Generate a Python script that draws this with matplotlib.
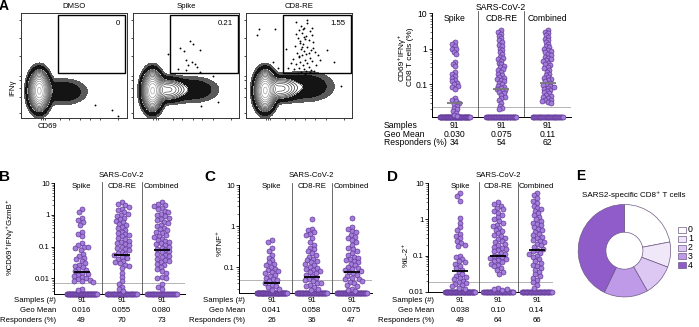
import numpy as np
import matplotlib
matplotlib.use('Agg')
import matplotlib.pyplot as plt
from matplotlib.patches import Rectangle
from matplotlib.ticker import LogLocator, NullFormatter, FuncFormatter

plt.rcParams['font.family'] = ['Liberation Sans', 'DejaVu Sans']
plt.rcParams['font.size'] = 5.5

W, H = 699, 327
fig = plt.figure(figsize=(6.99, 3.27), dpi=100)

# ---------------- data ----------------
groups = ["Spike", "CD8-RE", "Combined"]
n_samples = 91

# Panel A (CD69+IFNg+ % of CD8)
A_spike = [1.55, 1.35, 1.15, 1.0, 0.95, 0.82, 0.72, 0.43, 0.37, 0.33, 0.22, 0.2, 0.17, 0.15,
           0.13, 0.12, 0.11, 0.1, 0.09, 0.085, 0.072, 0.04, 0.036, 0.033, 0.03, 0.028, 0.025,
           0.022, 0.02, 0.018, 0.016, 0.014, 0.013]
A_cd8 = [3.3, 3.0, 2.6, 2.3, 2.0, 1.7, 1.5, 1.3, 1.15, 1.0, 0.9, 0.8, 0.7, 0.6, 0.55, 0.5, 0.45,
         0.4, 0.36, 0.33, 0.3, 0.27, 0.25, 0.22, 0.2, 0.18, 0.16, 0.15, 0.14, 0.13, 0.12, 0.11,
         0.1, 0.09, 0.085, 0.08, 0.075, 0.07, 0.065, 0.06, 0.055, 0.05, 0.045, 0.04, 0.035,
         0.03, 0.025, 0.022, 0.02]
A_comb = [3.3, 3.0, 2.7, 2.4, 2.1, 1.9, 1.7, 1.5, 1.35, 1.2, 1.1, 1.0, 0.9, 0.85, 0.8, 0.7, 0.65,
          0.6, 0.55, 0.5, 0.47, 0.44, 0.4, 0.37, 0.34, 0.3, 0.28, 0.25, 0.22, 0.2, 0.18, 0.16,
          0.15, 0.14, 0.13, 0.12, 0.11, 0.1, 0.095, 0.09, 0.085, 0.08, 0.075, 0.07, 0.065, 0.06,
          0.055, 0.05, 0.047, 0.044, 0.04, 0.037, 0.035, 0.033, 0.032, 0.03]
A_geo = [0.030, 0.075, 0.11]
A_resp = [34, 54, 62]
A_geo_txt = ["0.030", "0.075", "0.11"]
A_thresh = 0.023

# Panel B (%CD69+IFNg+GzmB+)
B_spike = [1.5, 1.2, 0.8, 0.7, 0.6, 0.5, 0.3, 0.26, 0.22, 0.13, 0.11, 0.1, 0.095, 0.09, 0.08,
           0.06, 0.05, 0.045, 0.04, 0.035, 0.03, 0.027, 0.025, 0.022, 0.02, 0.018, 0.017, 0.015,
           0.014, 0.013, 0.012, 0.011, 0.01, 0.0095, 0.009, 0.0085, 0.008, 0.0075, 0.0045, 0.0042]
B_cd8 = [2.5, 2.2, 2.0, 1.8, 1.6, 1.4, 1.25, 1.1, 1.0, 0.9, 0.8, 0.72, 0.65, 0.58, 0.52, 0.47,
         0.42, 0.38, 0.34, 0.3, 0.27, 0.25, 0.23, 0.21, 0.19, 0.17, 0.155, 0.14, 0.13, 0.12, 0.11,
         0.1, 0.092, 0.085, 0.078, 0.07, 0.064, 0.058, 0.053, 0.048, 0.044, 0.04, 0.036, 0.033,
         0.03, 0.027, 0.025, 0.021, 0.015, 0.011, 0.008, 0.0065, 0.0055, 0.0045, 0.004]
B_comb = [2.5, 2.3, 2.1, 1.9, 1.7, 1.5, 1.35, 1.2, 1.1, 1.0, 0.9, 0.82, 0.75, 0.68, 0.6, 0.55,
          0.5, 0.45, 0.4, 0.36, 0.33, 0.3, 0.27, 0.24, 0.22, 0.2, 0.18, 0.16, 0.15, 0.14, 0.13,
          0.12, 0.11, 0.1, 0.092, 0.085, 0.078, 0.072, 0.066, 0.06, 0.055, 0.05, 0.046, 0.042,
          0.038, 0.035, 0.032, 0.029, 0.026, 0.023, 0.02, 0.017, 0.015, 0.011, 0.0105, 0.01,
          0.0065, 0.0055, 0.0045]
B_geo = [0.016, 0.055, 0.080]
B_resp = [49, 70, 73]
B_geo_txt = ["0.016", "0.055", "0.080"]
B_thresh = 0.007

# Panel C (%TNF+)
C_spike = [0.46, 0.4, 0.3, 0.25, 0.2, 0.17, 0.15, 0.13, 0.12, 0.11, 0.1, 0.09, 0.085, 0.08,
           0.075, 0.07, 0.065, 0.06, 0.055, 0.05, 0.048, 0.045, 0.04, 0.037, 0.035, 0.032,
           0.03, 0.028]
C_cd8 = [1.5, 0.85, 0.8, 0.7, 0.65, 0.6, 0.5, 0.4, 0.35, 0.3, 0.27, 0.25, 0.22, 0.2, 0.18,
         0.16, 0.15, 0.14, 0.13, 0.12, 0.11, 0.1, 0.095, 0.09, 0.085, 0.08, 0.075, 0.07, 0.065,
         0.06, 0.055, 0.05, 0.048, 0.045, 0.042, 0.04, 0.037, 0.035, 0.033, 0.03, 0.028]
C_comb = [1.6, 0.95, 0.85, 0.75, 0.7, 0.6, 0.55, 0.5, 0.45, 0.4, 0.35, 0.3, 0.28, 0.25, 0.22,
          0.2, 0.18, 0.17, 0.16, 0.15, 0.14, 0.13, 0.12, 0.11, 0.1, 0.095, 0.09, 0.085, 0.08,
          0.075, 0.07, 0.065, 0.06, 0.055, 0.052, 0.05, 0.047, 0.044, 0.04, 0.037, 0.034, 0.03,
          0.028, 0.026]
C_geo = [0.041, 0.058, 0.075]
C_resp = [26, 36, 47]
C_geo_txt = ["0.041", "0.058", "0.075"]
C_thresh = 0.049

# Panel D (%IL-2+)
D_spike = [5.5, 4.5, 3.2, 1.1, 0.8, 0.6, 0.5, 0.4, 0.35, 0.3, 0.25, 0.22, 0.2, 0.18, 0.1, 0.09,
           0.08, 0.07, 0.065, 0.06, 0.05, 0.045, 0.04, 0.035, 0.03, 0.028, 0.026, 0.024, 0.022,
           0.02, 0.018, 0.017, 0.016, 0.015, 0.014, 0.013, 0.012]
D_cd8 = [3.0, 2.7, 2.4, 2.1, 1.9, 1.7, 1.5, 1.3, 1.15, 1.0, 0.9, 0.8, 0.72, 0.65, 0.58, 0.52,
         0.47, 0.42, 0.38, 0.34, 0.31, 0.28, 0.25, 0.23, 0.21, 0.19, 0.17, 0.16, 0.15, 0.14, 0.13,
         0.12, 0.11, 0.1, 0.095, 0.09, 0.085, 0.08, 0.075, 0.07, 0.065, 0.06, 0.055, 0.05, 0.045,
         0.04, 0.035, 0.031, 0.0125, 0.012, 0.0115, 0.012]
D_comb = [5.5, 4.6, 3.8, 3.2, 2.8, 2.4, 2.1, 1.9, 1.7, 1.5, 1.3, 1.15, 1.0, 0.9, 0.82, 0.75, 0.68,
          0.62, 0.56, 0.5, 0.45, 0.4, 0.36, 0.33, 0.3, 0.27, 0.25, 0.23, 0.21, 0.19, 0.17, 0.155,
          0.14, 0.13, 0.12, 0.11, 0.1, 0.09, 0.08, 0.07, 0.062, 0.055, 0.05, 0.045, 0.04, 0.035,
          0.03, 0.027, 0.024, 0.021, 0.018, 0.015, 0.0125]
D_geo = [0.038, 0.10, 0.14]
D_resp = [49, 64, 66]
D_geo_txt = ["0.038", "0.10", "0.14"]
D_thresh = 0.019

# Panel E: number of SARS2-specific CD8+ T cell responses per donor
E_labels = ["0", "1", "2", "3", "4"]
E_counts = [20, 8, 10, 14, 39]
E_colors = ["#ffffff", "#f0e7f8", "#dcc8f2", "#bf9ae8", "#8f5cc9"]

# Panel A flow plots: population density parameters (x, y, sx, sy, weight) in axis units
flow_titles = ["DMSO", "Spike", "CD8-RE"]
flow_freqs = ["0", "0.21", "1.55"]
flow_pops = [
    [(0.175, 0.26, 0.045, 0.085, 1.0), (0.40, 0.25, 0.12, 0.065, 0.05)],
    [(0.18, 0.26, 0.045, 0.085, 1.0), (0.33, 0.27, 0.08, 0.055, 0.22), (0.56, 0.27, 0.13, 0.065, 0.05)],
    [(0.18, 0.26, 0.045, 0.085, 1.0), (0.33, 0.28, 0.08, 0.055, 0.22), (0.56, 0.30, 0.14, 0.075, 0.055)],
]
dmso_events = [(0.92, 0.02), (0.86, 0.08), (0.70, 0.12)]
spike_events = [(0.44, 0.67), (0.48, 0.64), (0.535, 0.735), (0.56, 0.70), (0.63, 0.647),
                (0.33, 0.61), (0.50, 0.55), (0.55, 0.53), (0.52, 0.50), (0.58, 0.515),
                (0.42, 0.47), (0.60, 0.485), (0.50, 0.453), (0.63, 0.44), (0.64, 0.11),
                (0.80, 0.15), (0.75, 0.40)]
cd8re_events = [(0.52, 0.88), (0.55, 0.86), (0.58, 0.90), (0.50, 0.84), (0.60, 0.83), (0.47, 0.80),
                (0.53, 0.81), (0.57, 0.78), (0.62, 0.79), (0.49, 0.76), (0.56, 0.75), (0.51, 0.73),
                (0.59, 0.74), (0.54, 0.70), (0.63, 0.72), (0.46, 0.69), (0.58, 0.68), (0.52, 0.66),
                (0.61, 0.65), (0.55, 0.64), (0.48, 0.62), (0.57, 0.61), (0.65, 0.63), (0.53, 0.60),
                (0.50, 0.58), (0.60, 0.57), (0.44, 0.56), (0.56, 0.55), (0.62, 0.54), (0.51, 0.53),
                (0.58, 0.52), (0.47, 0.51), (0.54, 0.50), (0.66, 0.50), (0.59, 0.49), (0.50, 0.48),
                (0.55, 0.47), (0.61, 0.46), (0.45, 0.47), (0.57, 0.45), (0.52, 0.44), (0.64, 0.45),
                (0.49, 0.43), (0.60, 0.44), (0.56, 0.42), (0.42, 0.52), (0.53, 0.68), (0.68, 0.60),
                (0.58, 0.93), (0.38, 0.66), (0.51, 0.71), (0.62, 0.86), (0.55, 0.77), (0.47, 0.91),
                (0.70, 0.55), (0.59, 0.62), (0.40, 0.48), (0.54, 0.85), (0.63, 0.67), (0.50, 0.59),
                (0.12, 0.85), (0.27, 0.85), (0.10, 0.79), (0.76, 0.65), (0.83, 0.53), (0.25, 0.53),
                (0.30, 0.48), (0.90, 0.30)]
flow_events = [dmso_events, spike_events, cd8re_events]

# ---------------- helpers ----------------
FACE = "#a27dd9"
EDGE = "#5c3193"
MS = 3.6  # marker size in points


def px_axes(l, t, r, b):
    return fig.add_axes([l / W, 1 - b / H, (r - l) / W, (b - t) / H])


def ftext(x, y, s, **kw):
    fig.text(x / W, 1 - y / H, s, **kw)


def swarm_offsets(ax, xc, vals, d):
    """beeswarm offsets in display pixels"""
    placed = []
    offs = []
    for v in vals:
        y = ax.transData.transform((xc, v))[1]
        cands = [0.0]
        near = [(px, py) for px, py in placed if abs(py - y) < d]
        for px, py in near:
            dx = np.sqrt(d * d - (py - y) ** 2)
            cands += [px + dx, px - dx]
        cands = sorted(cands, key=lambda c: (abs(c), c))
        for c in cands:
            if all((c - px) ** 2 + (y - py) ** 2 >= d * d - 1e-6 for px, py in near):
                break
        placed.append((c, y))
        offs.append(c)
    return offs


def dot_panel(box, xlim, ylim, series, geo, thresh, mean_color, geo_txt, resp,
              row_labels, row_x, row_ha, rows_y, sars_y, lab_y, yticks, ylabel, ylab_xy,
              fs, ylab_fs, packing):
    ax = px_axes(*box)
    ax.set_yscale('log')
    ax.set_xlim(*xlim)
    ax.set_ylim(*ylim)
    for s in ['top', 'right']:
        ax.spines[s].set_visible(False)
    ax.spines['left'].set_linewidth(0.7)
    ax.spines['bottom'].set_linewidth(0.7)
    ax.set_xticks([])
    ax.yaxis.set_minor_locator(LogLocator(base=10, subs=np.arange(2, 10), numticks=20))
    ax.yaxis.set_minor_formatter(NullFormatter())
    ax.set_yticks(yticks)
    ax.yaxis.set_major_formatter(FuncFormatter(lambda v, p: '%g' % v))
    ax.tick_params(axis='y', which='major', length=2.2, width=0.6, pad=1, labelsize=fs)
    ax.tick_params(axis='y', which='minor', length=1.1, width=0.4)

    p0 = ax.transData.transform((1, 1))[0]
    p1 = ax.transData.transform((2, 1))[0]
    unit = p1 - p0
    d = MS * fig.dpi / 72.0 * packing

    ax.axhline(thresh, color='#a8a8a8', lw=0.6, zorder=1)
    for sep in [1.5, 2.5]:
        ax.plot([sep, sep], [0, 1.015], transform=ax.get_xaxis_transform(),
                color='#505050', lw=0.6, clip_on=False, zorder=1)

    for i, vals in enumerate(series):
        xc = i + 1
        n_floor = n_samples - len(vals)
        fx = xc + np.linspace(-15, 15, n_floor) / unit
        ax.scatter(fx, [ylim[0]] * n_floor, s=MS ** 2, c=FACE, edgecolors=EDGE,
                   linewidths=0.45, clip_on=False, zorder=3)
        offs = swarm_offsets(ax, xc, vals, d)
        ax.scatter(xc + np.array(offs) / unit, vals, s=MS ** 2, c=FACE, edgecolors=EDGE,
                   linewidths=0.45, clip_on=False, zorder=3)
        hw = 8 / unit
        ax.plot([xc - hw, xc + hw], [geo[i], geo[i]], color=mean_color, lw=1.3,
                zorder=5, solid_capstyle='butt')
        xpx = ax.transData.transform((xc, 1))[0]
        ftext(xpx, lab_y, groups[i], ha='center', va='center', fontsize=fs)
        ftext(xpx, rows_y[0], str(n_samples), ha='center', va='center', fontsize=fs)
        ftext(xpx, rows_y[1], geo_txt[i], ha='center', va='center', fontsize=fs)
        ftext(xpx, rows_y[2], str(resp[i]), ha='center', va='center', fontsize=fs)
        if i == 1:
            ftext(xpx, sars_y, "SARS-CoV-2", ha='center', va='center', fontsize=fs)
    for j, lab in enumerate(row_labels):
        ftext(row_x, rows_y[j], lab, ha=row_ha, va='center', fontsize=fs)
    ftext(ylab_xy[0], ylab_xy[1], ylabel, ha='center', va='center', rotation=90,
          fontsize=ylab_fs, linespacing=1.15)
    return ax


def flow_panel(box, pops, events, title, freq, show_labels):
    ax = px_axes(*box)
    ax.set_xlim(0, 1)
    ax.set_ylim(0, 1)
    xs = np.linspace(0, 1, 300)
    X, Y = np.meshgrid(xs, xs)
    Z = np.zeros_like(X)
    for (mx, my, sx, sy, w) in pops:
        Z += w * np.exp(-((X - mx) ** 2 / (2 * sx ** 2) + (Y - my) ** 2 / (2 * sy ** 2)))
    zmax = Z.max()
    ax.contourf(X, Y, Z, levels=[0.008 * zmax, 0.02 * zmax], colors=['#5a5a5a'])
    ax.contourf(X, Y, Z, levels=[0.02 * zmax, 0.06 * zmax], colors=['#141414'])
    ax.contourf(X, Y, Z, levels=[0.06 * zmax, zmax * 1.01], colors=['white'])
    lev = np.geomspace(0.06, 0.93, 12) * zmax
    cols = [plt.cm.gray(v) for v in np.linspace(0.1, 0.65, len(lev))]
    ax.contour(X, Y, Z, levels=lev, colors=cols, linewidths=0.5)
    ex = [e[0] for e in events]
    ey = [e[1] for e in events]
    ax.scatter(ex, ey, s=1.8, c='black', linewidths=0, zorder=4)
    ax.add_patch(Rectangle((0.35, 0.43), 0.637, 0.555, fill=False, lw=1.0,
                           edgecolor='black', zorder=5))
    ax.text(0.94, 0.9, freq, ha='right', va='center', fontsize=5.6, transform=ax.transAxes)
    for s in ax.spines.values():
        s.set_linewidth(0.7)
        s.set_color('#333333')
    ax.set_xticks([0.19, 0.21, 0.23, 0.37, 0.46, 0.56, 0.65, 0.75, 0.92])
    ax.set_yticks([0.05, 0.2, 0.29, 0.36, 0.40, 0.59, 0.76, 0.93])
    ax.set_xticklabels([])
    ax.set_yticklabels([])
    ax.tick_params(length=1.5, width=0.5, direction='out')
    l, t, r, b = box
    ftext((l + r) / 2, t - 6, title, ha='center', va='center', fontsize=5.6)
    if show_labels:
        ftext(l - 8, 88, "IFNγ", ha='center', va='center', rotation=90, fontsize=5.6)
        ftext(48, b + 8, "CD69", ha='center', va='center', fontsize=5.6)
    return ax


# ---------------- Panel A flow plots ----------------
flow_boxes = [(20.7, 13, 126.7, 118), (133.3, 13, 239.3, 118), (246, 13, 352, 118)]
for k in range(3):
    flow_panel(flow_boxes[k], flow_pops[k], flow_events[k], flow_titles[k], flow_freqs[k], k == 0)

# ---------------- Panel A dot plot ----------------
dot_panel((431.7, 13, 570.7, 117.3), (0.5, 3.5), (0.0118, 10), [A_spike, A_cd8, A_comb],
          A_geo, A_thresh, '#7a7a7a', A_geo_txt, A_resp,
          ["Samples", "Geo Mean", "Responders (%)"], 384, 'left', [125.7, 134, 142.7],
          7.3, 18.3, [0.1, 1, 10], "CD69⁺IFNγ⁺\nCD8 T cells (%)", (406, 57), 6.2, 6.0, 0.65)

# ---------------- Panels B, C, D ----------------
rowsBD = [301, 310.7, 320.7]
labsBD = ["Samples (#)", "Geo Mean", "Responders (%)"]
dot_panel((54, 183.3, 185, 294), (0.3075, 3.5825), (0.0032, 10), [B_spike, B_cd8, B_comb],
          B_geo, B_thresh, 'black', B_geo_txt, B_resp, labsBD, 56, 'right', rowsBD,
          175, 186, [0.01, 0.1, 1, 10], "%CD69⁺IFNγ⁺GzmB⁺", (10, 237), 5.6, 5.6, 0.85)
dot_panel((239, 185, 371.7, 293.3), (0.1825, 3.5), (0.023, 10), [C_spike, C_cd8, C_comb],
          C_geo, C_thresh, 'black', C_geo_txt, C_resp, labsBD, 245, 'right', rowsBD,
          175, 186, [0.1, 1, 10], "%TNF⁺", (220, 243), 5.6, 5.6, 0.85)
dot_panel((428.3, 183.3, 553.3, 291.7), (0.173, 3.433), (0.01, 10), [D_spike, D_cd8, D_comb],
          D_geo, D_thresh, 'black', D_geo_txt, D_resp, labsBD, 434, 'right', rowsBD,
          175, 186, [0.01, 0.1, 1, 10], "%IL-2⁺", (406, 255), 5.6, 5.6, 0.85)

# ---------------- Panel E donut ----------------
cx, cy, R = 624.4, 250.7, 46.7
axE = px_axes(cx - R, cy - R, cx + R, cy + R)
axE.pie(E_counts, colors=E_colors, startangle=90, counterclock=False, radius=1,
        wedgeprops=dict(width=0.6, edgecolor='#6f5a86', linewidth=0.5))
axE.set_xlim(-1.01, 1.01)
axE.set_ylim(-1.01, 1.01)
axE.set_aspect('equal')
axE.axis('off')
ftext(634, 195, "SARS2-specific CD8⁺ T cells", ha='center', va='center', fontsize=5.8)
leg_y = [230, 238.75, 247.5, 256.25, 265]
for i, lab in enumerate(E_labels):
    fig.patches.append(Rectangle((678 / W, 1 - (leg_y[i] + 3) / H), 8 / W, 6 / H,
                                 transform=fig.transFigure, facecolor=E_colors[i],
                                 edgecolor='#6f5a86', linewidth=0.5))
    ftext(688, leg_y[i], lab, ha='left', va='center', fontsize=6.3)

# ---------------- panel letters ----------------
for lab, x, y, fsz in [("A", 4, 10.5, 10), ("B", 5, 181, 11), ("C", 210, 181, 11),
                       ("D", 393, 181, 11), ("E", 580.5, 179.5, 10)]:
    ftext(x, y, lab, ha='center', va='baseline', fontsize=fsz, fontweight='bold')

fig.savefig('out.png', dpi=100)
